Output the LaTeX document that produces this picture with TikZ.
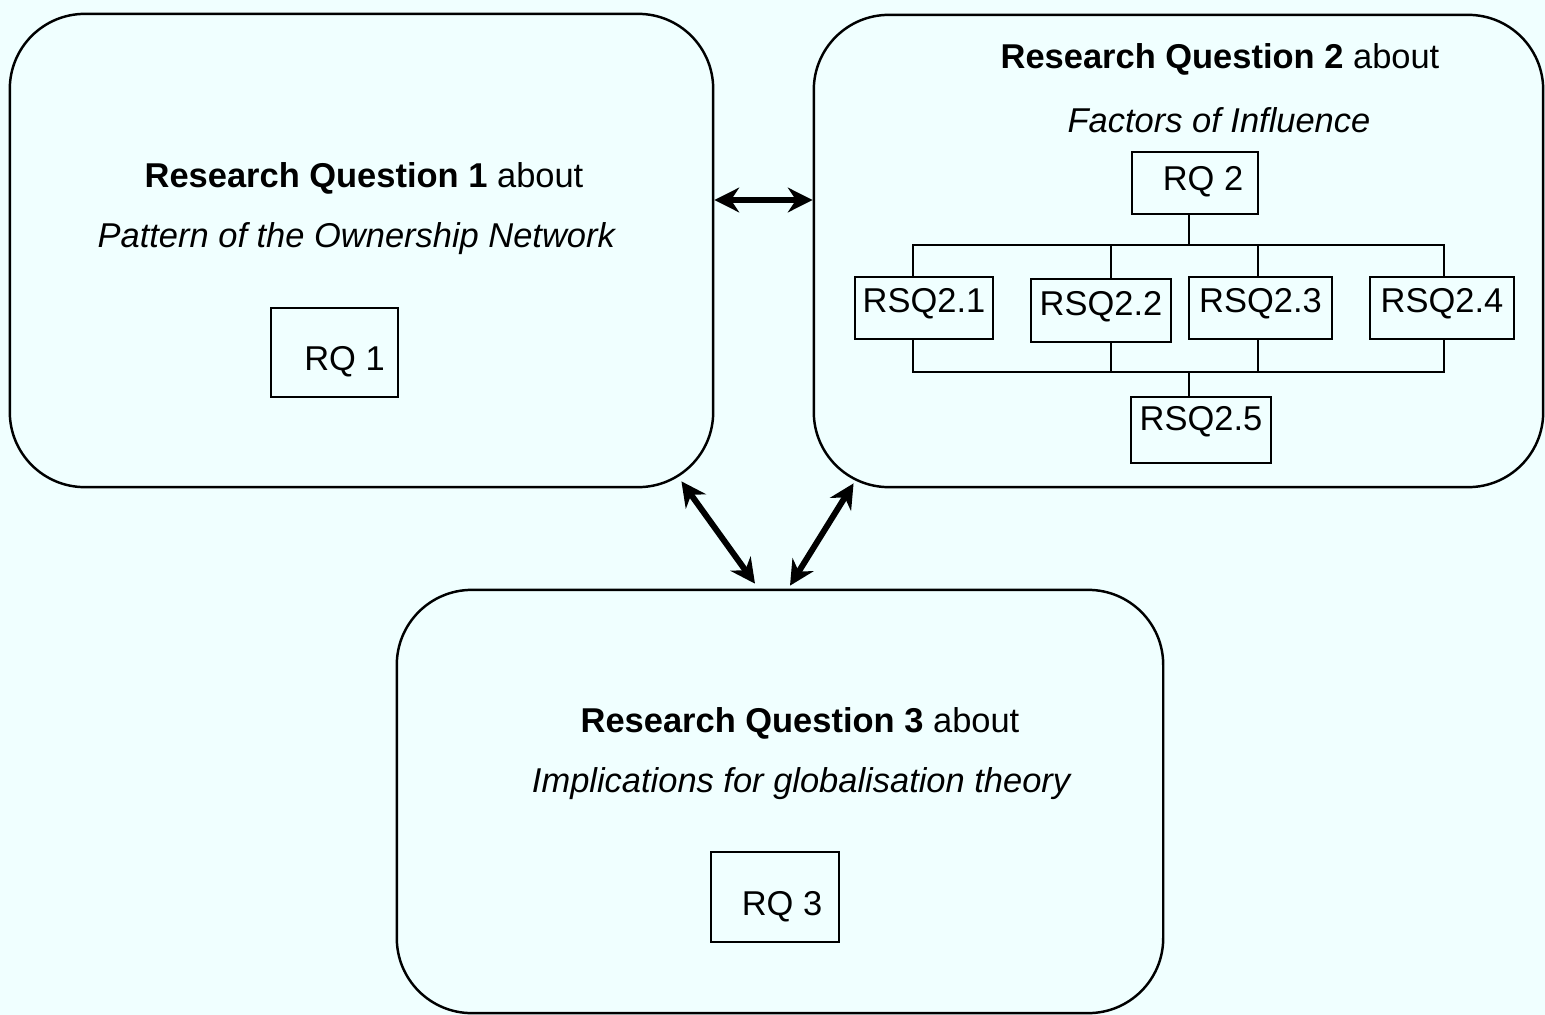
\documentclass[tikz,border=0pt]{standalone}
\usepackage{fontspec}
\setmainfont{Liberation Sans}
\usepackage{xcolor}
\usetikzlibrary{arrows.meta}
\definecolor{bgcyan}{RGB}{240,255,255}
\tikzstyle{qbox}=[draw, rounded corners=0.75cm, line width=0.7pt]
\tikzstyle{rqbox}=[draw, line width=0.7pt, minimum width=1.27cm, minimum height=0.89cm, text height=10.4pt, text depth=0pt]
\tikzstyle{rsq}=[draw, line width=0.7pt, inner sep=0pt, minimum height=0.62cm, text height=7.2pt, text depth=4.6pt]
\tikzstyle{link}=[line width=1.7pt, <->, >={Stealth[length=7pt,width=7pt]}]
\tikzstyle{tree}=[line width=0.6pt]

\begin{document}
\begin{tikzpicture}[x=0.01cm, y=-0.01cm, every node/.append style={font=\fontsize{9.8pt}{12pt}\selectfont}]
      \fill [bgcyan] (0,0) rectangle (1545,1015);
      \useasboundingbox (0,0) rectangle (1545,1015);
      % the three research questions
      \node [qbox, minimum width=7.03cm, minimum height=4.73cm] (q1) at (361.5,250.5) {};
      \node [qbox, minimum width=7.29cm, minimum height=4.72cm] (q2) at (1178.5,251) {};
      \node [qbox, minimum width=7.66cm, minimum height=4.23cm] (q3) at (780,801.5) {};
      \node (t1) at (364,178) {\textbf{Research Question 1} about};
      \node (s1) at (357,239) {\textit{Pattern of the Ownership Network}};
      \node [rqbox] (rq1) at (334.5,352.5) {\hspace*{0.2cm}RQ 1};
      \node (t2) at (1220,59) {\textbf{Research Question 2} about};
      \node (s2) at (1219,120) {\textit{Factors of Influence}};
      \node [rsq, minimum width=1.26cm, text depth=2.8pt] (rq2) at (1195,183) {\hspace*{0.16cm}RQ 2};
      \node (t3) at (800,723) {\textbf{Research Question 3} about};
      \node (s3) at (802,784) {\textit{Implications for globalisation theory}};
      \node [rqbox, minimum width=1.28cm, minimum height=0.90cm] (rq3) at (775,897) {\hspace*{0.14cm}RQ 3};
      % sub-questions of RQ 2
      \node [rsq, minimum width=1.38cm] (rsq1) at (924,308) {RSQ2.1};
      \node [rsq, minimum width=1.40cm, minimum height=0.63cm] (rsq2) at (1101,310.5) {RSQ2.2};
      \node [rsq, minimum width=1.43cm] (rsq3) at (1260.5,308) {RSQ2.3};
      \node [rsq, minimum width=1.44cm] (rsq4) at (1442,308) {RSQ2.4};
      \node [rsq, minimum width=1.40cm, minimum height=0.66cm, text depth=6.8pt] (rsq5) at (1201,430) {RSQ2.5};
      \coordinate (bt) at (1189,245);
      \coordinate (bb) at (1189,372);
      \draw [tree] (rq2.south -| bt) -- (bt);
      \draw [tree] ([xshift=-0.11cm]rsq1.north) |- ([xshift=0.02cm]rsq4.north |- bt) -- ([xshift=0.02cm]rsq4.north);
      \draw [tree] ([xshift=0.1cm]rsq2.north) -- ([xshift=0.1cm]rsq2.north |- bt);
      \draw [tree] ([xshift=-0.025cm]rsq3.north) -- ([xshift=-0.025cm]rsq3.north |- bt);
      \draw [tree] ([xshift=-0.11cm]rsq1.south) |- ([xshift=0.02cm]rsq4.south |- bb) -- ([xshift=0.02cm]rsq4.south);
      \draw [tree] ([xshift=0.1cm]rsq2.south) -- ([xshift=0.1cm]rsq2.south |- bb);
      \draw [tree] ([xshift=-0.025cm]rsq3.south) -- ([xshift=-0.025cm]rsq3.south |- bb);
      \draw [tree] (bb) -- (rsq5.north -| bb);
      % links between the questions
      \draw [link] (q1.east |- 0,200) -- (q2.west |- 0,200);
      \draw [link] ([shift={(-33,-7)}]q1.south east) -- ([shift={(-25,-5)}]q3.north);
      \draw [link] ([shift={(41,-5)}]q2.south west) -- ([shift={(10,-3)}]q3.north);
\end{tikzpicture}
\end{document}
